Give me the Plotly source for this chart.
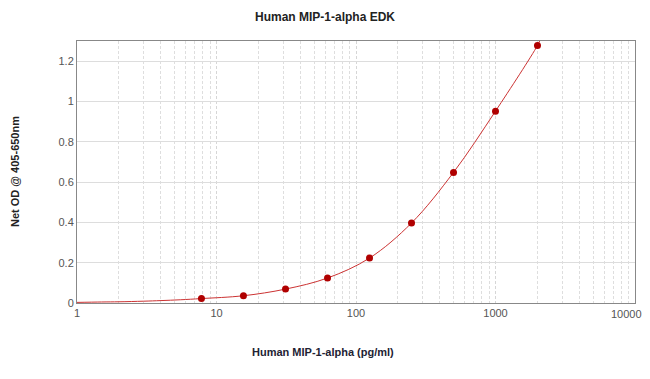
import plotly.graph_objects as go

# Standard points
conc = [7.8, 15.6, 31.25, 62.5, 125, 250, 500, 1000, 2000]
od = [0.022, 0.036, 0.069, 0.124, 0.223, 0.397, 0.648, 0.952, 1.278]

# Fitted curve
curve_x = [1, 1.5, 2, 3, 4, 5.5, 7.8, 15.6, 31.25, 62.5, 125, 250, 500, 1000, 2000, 2100]
curve_y = [0.003, 0.005, 0.006, 0.009, 0.012, 0.016, 0.022, 0.036, 0.069, 0.124, 0.223, 0.397, 0.648, 0.952, 1.278, 1.31]

x_ticks = [1, 10, 100, 1000, 10000]
x_tick_labels = ["1", "10", "100", "1000", "10000"]
y_ticks = [0, 0.2, 0.4, 0.6, 0.8, 1, 1.2]
y_tick_labels = ["0", "0.2", "0.4", "0.6", "0.8", "1", "1.2"]

fig = go.Figure()
fig.add_trace(go.Scatter(x=curve_x, y=curve_y, mode="lines",
                         line=dict(color="#cc3333", width=1, shape="spline"),
                         hoverinfo="skip", showlegend=False, cliponaxis=False))
fig.add_trace(go.Scatter(x=conc, y=od, mode="markers",
                         marker=dict(color="#b00000", size=7),
                         showlegend=False, cliponaxis=False))

# last tick label is nudged left to stay inside the picture
shown_labels = x_tick_labels[:-1] + [""]

fig.update_layout(
    width=650, height=379,
    paper_bgcolor="white", plot_bgcolor="white",
    margin=dict(l=69, r=23, t=33, b=84),
    font=dict(family="Liberation Sans, Arial, sans-serif", size=11, color="#555555"),
    title=dict(text="<b>Human MIP-1-alpha EDK</b>", x=(325 - 8) / 650, xanchor="center",
               xref="container",
               y=1 - 9 / 379, yanchor="middle",
               font=dict(size=12, color="#222222")),
    annotations=[
        dict(text="<b>Human MIP-1-alpha (pg/ml)</b>", xref="paper", yref="paper",
             x=(323 - 77) / 558, y=0, yshift=-49, xanchor="center", yanchor="middle",
             showarrow=False, font=dict(size=11, color="#222233")),
        dict(text="<b>Net OD @ 405-650nm</b>", xref="paper", yref="paper",
             x=0, y=0.5, xshift=-62, textangle=-90, xanchor="center", yanchor="middle",
             showarrow=False, font=dict(size=11, color="#222222")),
        dict(text=x_tick_labels[-1], xref="paper", yref="paper",
             x=1, y=0, xshift=9, yshift=-3, xanchor="right", yanchor="top",
             showarrow=False, font=dict(size=11, color="#555555")),
    ],
)
fig.update_xaxes(
    type="log", range=[0, 4.0], tickvals=x_ticks, ticktext=shown_labels,
    showline=True, linecolor="#888888", linewidth=1, mirror=True,
    showgrid=True, gridcolor="#d6d6d6", griddash="3px,2px", gridwidth=1,
    minor=dict(showgrid=True, gridcolor="#dedede", griddash="3px,2px", dtick="D1"),
    ticks="", zeroline=False, automargin=False,
)
fig.update_yaxes(
    range=[0, 1.3], tickvals=y_ticks, ticktext=y_tick_labels,
    showline=True, linecolor="#888888", linewidth=1, mirror=True,
    showgrid=True, gridcolor="#dddddd", gridwidth=1, zeroline=False,
    ticks="", automargin=False,
)

fig.write_html("out.html")
